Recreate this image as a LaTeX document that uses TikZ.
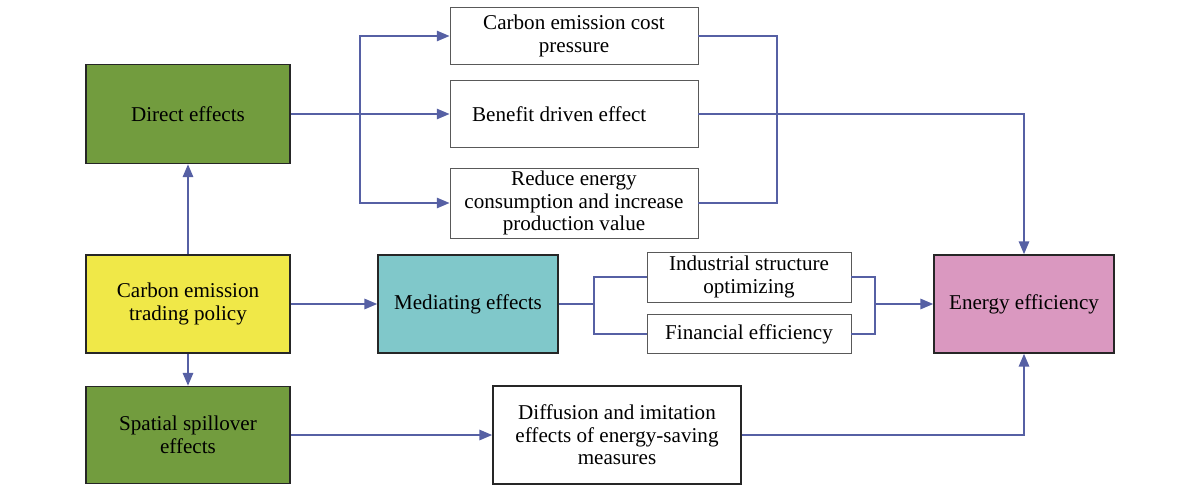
\documentclass[tikz,border=0pt]{standalone}
\usepackage{fontspec}
\setmainfont{Liberation Serif}
\usepackage{tikz}
\usetikzlibrary{arrows.meta,calc}

\definecolor{leafgreen}{RGB}{114,156,62}
\definecolor{policyyellow}{RGB}{240,232,72}
\definecolor{mediateteal}{RGB}{128,200,202}
\definecolor{effpink}{RGB}{218,152,192}
\definecolor{linkblue}{RGB}{86,96,164}

\tikzset{
  box/.style={draw=black!65, line width=0.6pt, fill=white, align=center,
    inner sep=2pt, font=\fontsize{15}{16}\selectfont},
  colbox/.style={box, draw=black!85, line width=1.1pt},
  link/.style={draw=linkblue, line width=1.2pt},
  flow/.style={link, -{Triangle[length=3.2mm,width=2.6mm]}}
}

\begin{document}
\begin{tikzpicture}[x=0.025cm,y=-0.025cm]
\useasboundingbox (0,0) rectangle (1200,494);
% left column
\node[colbox, fill=leafgreen, minimum width=5.1cm, minimum height=2.475cm] (direct) at (188,114) {Direct effects};
\node[colbox, fill=policyyellow, minimum width=5.1cm, minimum height=2.45cm] (policy) at (188,304) {Carbon emission\\trading policy};
\node[colbox, fill=leafgreen, minimum width=5.1cm, minimum height=2.425cm] (spatial) at (188,435) {Spatial spillover\\effects};
% middle
\node[colbox, fill=mediateteal, minimum width=4.5cm, minimum height=2.45cm] (mediating) at (468,304) {Mediating effects};
\node[box, minimum width=6.2cm, minimum height=1.425cm] (cost) at (574,36) {Carbon emission cost\\pressure};
\node[box, minimum width=6.2cm, minimum height=1.675cm] (benefit) at (574,114) {Benefit driven effect\hspace{1.4em}};
\node[box, minimum width=6.2cm, minimum height=1.75cm] (reduce) at (574,203) {Reduce energy\\consumption and increase\\production value};
\node[box, minimum width=5.1cm, minimum height=1.25cm] (industry) at (749,277) {Industrial structure\\optimizing};
\node[box, minimum width=5.1cm, minimum height=0.975cm] (finance) at (749,334) {Financial efficiency};
\node[colbox, fill=white, minimum width=6.2cm, minimum height=2.45cm] (diffusion) at (617,435) {Diffusion and imitation\\effects of energy-saving\\measures};
% right
\node[colbox, fill=effpink, minimum width=4.5cm, minimum height=2.45cm] (energy) at (1024,304) {Energy efficiency};

\coordinate (split) at (360,114);
\coordinate (joinA) at (777,114);
\coordinate (splitB) at (594,304);
\coordinate (joinB) at (875,304);

\draw[flow] (policy) -- (direct);
\draw[flow] (policy) -- (spatial);
\draw[flow] (policy) -- (mediating);
\draw[flow] (direct) -- (benefit);
\draw[flow] (split) |- (cost.west);
\draw[flow] (split) |- (reduce.west);
\draw[link] (cost.east) -| (joinA);
\draw[link] (reduce.east) -| (joinA);
\draw[flow] (benefit.east) -| (energy.north);
\draw[link] (mediating) -- (splitB);
\draw[link] (splitB) |- (industry.west);
\draw[link] (splitB) |- (finance.west);
\draw[link] (industry.east) -| (joinB);
\draw[link] (finance.east) -| (joinB);
\draw[flow] (joinB) -- (energy.west);
\draw[flow] (spatial) -- (diffusion);
\draw[flow] (diffusion.east) -| (energy.south);
\end{tikzpicture}
\end{document}
